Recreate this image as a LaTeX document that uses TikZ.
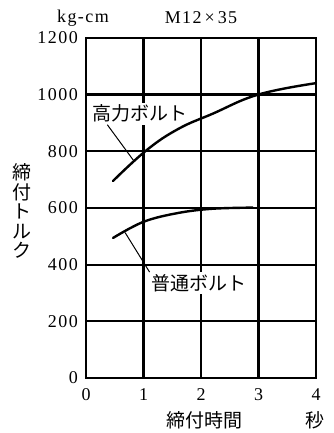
\documentclass[tikz,border=0pt]{standalone}
\usepackage{fontspec}
\setmainfont{Liberation Serif}
\newfontfamily\jpfont{Noto Sans CJK JP}

\tikzset{
  gridline/.style={line width=2.2pt},
  curveline/.style={line width=2.4pt, line cap=round},
  leader/.style={line width=1pt},
  numlabel/.style={font=\fontsize{18}{18}\selectfont\addfontfeature{LetterSpace=8}, inner sep=0pt},
  jplabel/.style={font=\jpfont\fontsize{19}{19.5}\selectfont, inner sep=0pt},
}

\begin{document}
\begin{tikzpicture}[x=57.5pt, y=0.2835pt]
            \useasboundingbox (-86pt,-55pt) rectangle (248pt,378pt);
            % grid
            \foreach \t in {1,2,3}
              \draw[gridline] (\t,0) -- (\t,1200);
            \foreach \v in {200,400,...,1000}
              \draw[gridline] (0,\v) -- (4,\v);
            \draw[gridline] (0,0) rectangle (4,1200);
            % scales
            \foreach \v in {0,200,...,1200}
              \node[numlabel, anchor=east] (y\v) at ([xshift=-8pt]0,\v) {\v};
            \foreach \t in {0,...,4}
              \node[numlabel] (x\t) at ([yshift=-17pt]\t,0) {\t};
            \node[numlabel] (unit) at (-3pt,360pt) {kg-cm};
            \node[numlabel] (bolt) at (115pt,360pt) {M12\,×\,35};
            \node[jplabel] (jikan) at (118pt,-42pt) {締付時間};
            \node[jplabel] (byo) at (229pt,-42pt) {秒};
            \node[jplabel, align=center] (torque) at (-64pt,167pt) {締\\付\\ト\\ル\\ク};
            % labels
            \node[jplabel, fill=white, inner sep=2pt] (koryoku) at (0.94,932) {高力ボルト};
            \node[jplabel, fill=white, inner sep=2pt] (futsu) at (1.97,335) {普通ボルト};
            % curves
            \draw[curveline] plot[smooth, tension=0.7] coordinates
              {(0.47,695) (1.05,803) (1.6,878) (2.2,932) (3,1000) (4,1040)};
            \draw[curveline] plot[smooth, tension=0.6] coordinates
              {(0.47,494) (1,551) (1.6,582) (2.2,597) (2.9,601)};
            \coordinate (hk) at (0.835,765);
            \coordinate (ft) at (0.68,513);
            \draw[leader] ([xshift=17pt]koryoku.south west) -- (hk);
            \draw[leader] (ft) -- (futsu.north west);
        \end{tikzpicture}
\end{document}
